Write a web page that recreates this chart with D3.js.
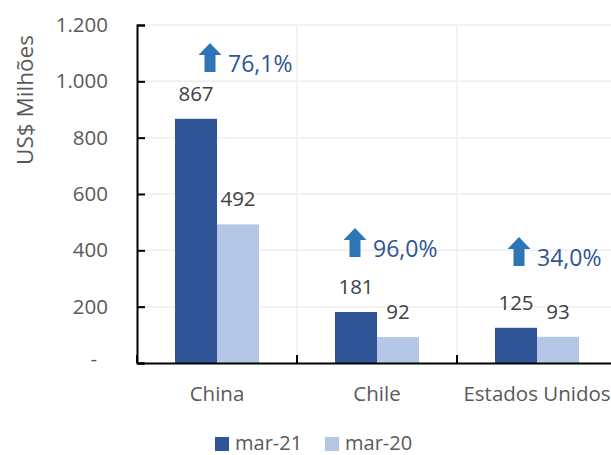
<!DOCTYPE html>
<html><head><meta charset="utf-8">
<script src="https://cdn.jsdelivr.net/npm/d3@7"></script>
<style>body{margin:0;background:#fff}svg{display:block;font-family:"Open Sans","Noto Sans",sans-serif}</style>
</head><body>
<svg id="c" width="611" height="455"></svg>
<script>
const categories = ["China", "Chile", "Estados Unidos"];
const seriesNames = ["mar-21", "mar-20"];
const mar21 = [867, 181, 125];
const mar20 = [492, 92, 93];
const changes = ["76,1%", "96,0%", "34,0%"];
const yTicks = [0, 200, 400, 600, 800, 1000, 1200];
const yTickLabels = ["-", "200", "400", "600", "800", "1.000", "1.200"];
const colors = ["#2F5597", "#B4C7E7"];

const FONT = '"Open Sans","Noto Sans",sans-serif';
const svg = d3.select("#c");
const mLeft = 137, mTop = 25, mBottom = 363, mRight = 617;
const y = d3.scaleLinear().domain([0, 1200]).range([mBottom, mTop]);
const x = d3.scaleBand().domain(categories).range([mLeft, mRight]).padding(0);
const xs = d3.scaleBand().domain(seriesNames).range([38, 122]).padding(0);

// horizontal gridlines
svg.append("g").selectAll("line").data(yTicks.filter(d => d > 0)).join("line")
  .attr("x1", mLeft).attr("x2", 611).attr("y1", d => y(d)).attr("y2", d => y(d))
  .attr("stroke", "#eeeeee").attr("stroke-width", 1.5);
// vertical gridlines at category boundaries
svg.append("g").selectAll("line").data(categories.slice(1)).join("line")
  .attr("x1", d => x(d)).attr("x2", d => x(d)).attr("y1", mTop).attr("y2", mBottom)
  .attr("stroke", "#eeeeee").attr("stroke-width", 1.5);

// bars
const series = [mar21, mar20];
series.forEach((vals, si) => {
  const g = svg.append("g");
  g.selectAll("rect").data(categories).join("rect")
    .attr("x", (d) => x(d) + xs(seriesNames[si]))
    .attr("width", xs.bandwidth())
    .attr("y", (d, i) => y(vals[i]))
    .attr("height", (d, i) => y(0) - y(vals[i]))
    .attr("fill", colors[si]);
  g.selectAll("text").data(categories).join("text")
    .attr("x", d => x(d) + xs(seriesNames[si]) + xs.bandwidth() / 2)
    .attr("y", (d, i) => y(vals[i]) - 18)
    .attr("text-anchor", "middle")
    .attr("font-size", 20.5).attr("fill", "#404040")
    .text((d, i) => vals[i]);
});

// y axis
const yAxis = d3.axisLeft(y).tickValues(yTicks).tickSize(-8).tickPadding(29)
  .tickFormat((d, i) => yTickLabels[i]);
const ya = svg.append("g").attr("transform", `translate(${mLeft},0)`).call(yAxis);
ya.select(".domain").attr("stroke", "#000").attr("stroke-width", 2);
ya.selectAll(".tick line").attr("stroke", "#000").attr("stroke-width", 2);
ya.selectAll(".tick text").attr("font-size", 20.5).attr("fill", "#595959")
  .attr("font-family", FONT);
ya.selectAll(".tick text").filter(d => d === 0).attr("dx", -11).attr("dy", "0.1em");

// x axis
const xAxis = d3.axisBottom(x).tickSize(0).tickPadding(23);
const xa = svg.append("g").attr("transform", `translate(0,${mBottom})`).call(xAxis);
xa.select(".domain").attr("stroke", "#000").attr("stroke-width", 2);
xa.selectAll(".tick text").attr("font-size", 20.5).attr("fill", "#595959")
  .attr("font-family", FONT);
svg.append("g").selectAll("line").data(categories).join("line")
  .attr("x1", d => x(d)).attr("x2", d => x(d)).attr("y1", mBottom - 8).attr("y2", mBottom)
  .attr("stroke", "#000").attr("stroke-width", 2);

// y title
svg.append("text").attr("transform", "translate(33,100) rotate(-90)")
  .attr("text-anchor", "middle").attr("font-size", 22.5).attr("fill", "#595959")
  .text("US$ Milhões");

// annotations: arrow + percent (x offset px from band centre, baseline in value space)
const annX = [-19, -34, -30];
const annY = [1033, 376, 344];
const annG = svg.append("g");
categories.forEach((c, i) => {
  const cx = x(c) + x.bandwidth() / 2 + annX[i] + 12; // arrow centre
  const base = y(annY[i]);
  annG.append("path")
    .attr("d", `M${cx},${base - 29} L${cx + 11.5},${base - 17} L${cx + 5.5},${base - 17} L${cx + 5.5},${base} L${cx - 5.5},${base} L${cx - 5.5},${base - 17} L${cx - 11.5},${base - 17} Z`)
    .attr("fill", "#2E75B6");
  annG.append("text").attr("x", cx + 18).attr("y", base)
    .attr("font-size", 23).attr("fill", "#2F5597").text(changes[i]);
});

// legend
const lg = svg.append("g");
const lx = [215, 325];
seriesNames.forEach((s, i) => {
  lg.append("rect").attr("x", lx[i]).attr("y", 437).attr("width", 14).attr("height", 14).attr("fill", colors[i]);
  lg.append("text").attr("x", lx[i] + 20).attr("y", 450).attr("font-size", 20).attr("fill", "#595959").text(s);
});
</script>
</body></html>
